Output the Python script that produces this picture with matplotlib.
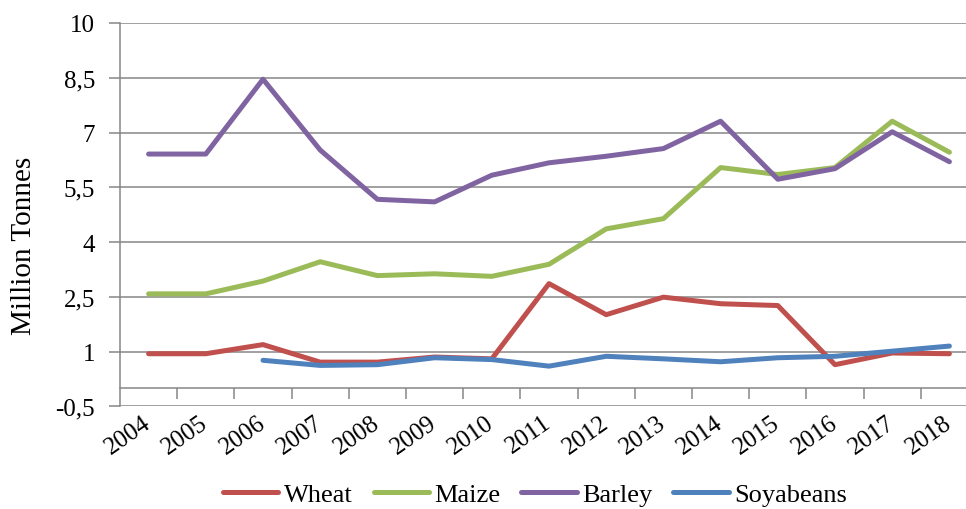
import matplotlib.pyplot as plt

years = ['2004', '2005', '2006', '2007', '2008', '2009', '2010', '2011',
         '2012', '2013', '2014', '2015', '2016', '2017', '2018']
wheat = [0.94, 0.94, 1.19, 0.71, 0.71, 0.85, 0.80, 2.86, 2.01, 2.49, 2.31, 2.26, 0.64, 0.96, 0.94]
maize = [2.58, 2.58, 2.93, 3.46, 3.08, 3.13, 3.06, 3.39, 4.36, 4.64, 6.04, 5.85, 6.04, 7.31, 6.46]
barley = [6.41, 6.41, 8.46, 6.52, 5.17, 5.10, 5.83, 6.17, 6.35, 6.56, 7.31, 5.72, 6.01, 7.02, 6.20]
soya_years = years[2:]
soyabeans = [0.76, 0.62, 0.64, 0.83, 0.78, 0.60, 0.87, 0.80, 0.72, 0.83, 0.87, 1.01, 1.15]
yticks = [-0.5, 1, 2.5, 4, 5.5, 7, 8.5, 10]

plt.rcParams['font.family'] = ['Liberation Serif', 'DejaVu Serif']
grey = '#868686'

fig = plt.figure(figsize=(9.66, 5.10), dpi=100)
ax = fig.add_axes([120 / 966, 1 - 407.3 / 510, 858 / 966, 383.3 / 510])

# spine position first, it resets the tick settings
ax.spines['bottom'].set_position(('data', 0))
for s in ['top', 'right']:
    ax.spines[s].set_visible(False)
for s in ['left', 'bottom']:
    ax.spines[s].set_color(grey)
    ax.spines[s].set_linewidth(1.1)

x = list(range(len(years)))
xs = list(range(2, len(years)))
kw = dict(linewidth=3.6, solid_capstyle='round', solid_joinstyle='round')
ax.plot(x, wheat, color='#C0504D', label='Wheat', **kw)
ax.plot(x, maize, color='#9BBB59', label='Maize', **kw)
ax.plot(x, barley, color='#8064A2', label='Barley', **kw)
ax.plot(xs, soyabeans, color='#4F81BD', label='Soyabeans', **kw)

ax.set_xlim(-0.5, len(years) - 0.5)
ax.set_ylim(-0.5, 10)
ax.set_yticks(yticks)
ax.set_yticklabels([('%g' % v).replace('.', ',') for v in yticks], fontsize=18)
ax.yaxis.grid(True, color=grey, linewidth=1.1)
ax.set_axisbelow(True)

ax.set_xticks(x)
ax.set_xticklabels(years, fontsize=18, rotation=35, ha='right', va='center',
                   rotation_mode='anchor')
ax.set_xticks([i - 0.5 for i in range(1, len(years) + 1)], minor=True)
ax.tick_params(axis='x', which='major', length=0, pad=23)
ax.tick_params(axis='x', which='minor', length=8, width=1.1, color=grey, direction='out')
ax.tick_params(axis='y', length=8, width=1.1, color=grey, pad=10)

ax.set_ylabel('Million Tonnes', fontsize=21)
ax.yaxis.set_label_coords(-0.097, 0.42)

fig.legend(loc='center', bbox_to_anchor=(535 / 966, 1 - 495 / 510), ncol=4,
           frameon=False, fontsize=19, handlelength=2.1, handletextpad=0.2,
           columnspacing=0.8)

fig.savefig('out.png', dpi=100)
